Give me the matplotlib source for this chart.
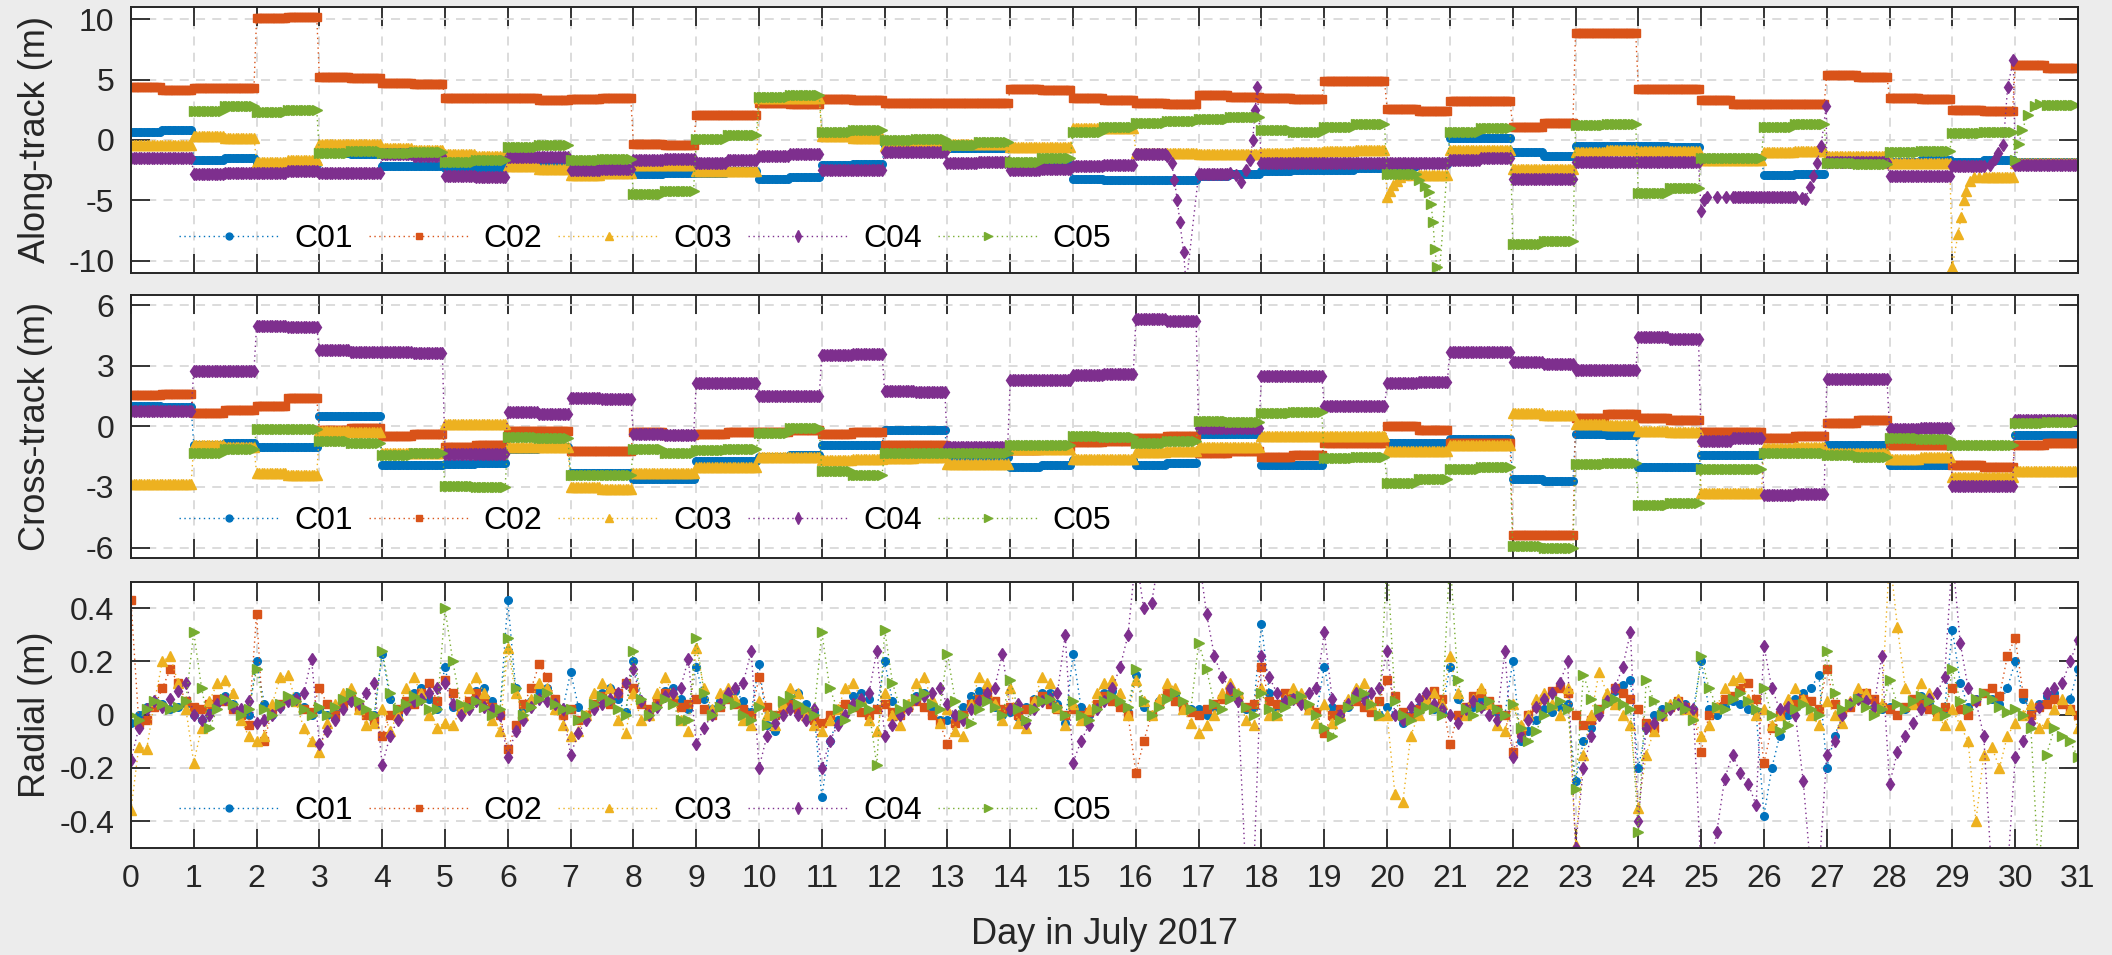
import numpy as np
import matplotlib.pyplot as plt

plt.rcParams['font.family'] = ['Liberation Sans', 'DejaVu Sans']
plt.rcParams['axes.unicode_minus'] = False

sats = ['C01', 'C02', 'C03', 'C04', 'C05']
colors = ['#0072BD', '#D95319', '#EDB120', '#7E2F8E', '#77AC30']
markers = ['.', 's', '^', 'd', '>']
msizes = [11, 5.5, 6.5, 6.5, 6.5]

N = None

# ---- along-track (m), one level per half day, day 0 .. 30 ----
along_c01 = [0.7, 0.8, -1.7, -1.5, -1.9, -2.0, -1.1, -1.2, -2.2, -2.2,
             -2.3, -2.3, -1.8, -1.8, -2.4, -2.4, -2.8, -2.7, -2.7, -2.6,
             -3.2, -3.1, -2.1, -2.0, -0.4, -0.5, -0.7, -0.7, -2.1, -2.1,
             -3.2, -3.3, -3.3, -3.3, -3.0, -2.8, -2.6, -2.5, -2.5, -2.3,
             -2.2, -2.0, 0.2, 0.2, -1.0, -1.3, -0.5, -0.5, -0.5, -0.6,
             -1.5, -1.5, -2.9, -2.8, -1.9, -1.9, -1.8, -1.7, -1.8, -1.7,
             -1.8, -1.8]
along_c02 = [4.4, 4.1, 4.3, 4.3, 10.1, 10.2, 5.2, 5.1, 4.7, 4.6,
             3.5, 3.5, 3.5, 3.3, 3.4, 3.5, -0.3, -0.4, 2.1, 2.1,
             3.1, 3.0, 3.4, 3.3, 3.1, 3.1, 3.1, 3.1, 4.2, 4.1,
             3.5, 3.3, 3.1, 3.0, 3.7, 3.6, 3.5, 3.4, 4.9, 4.9,
             2.6, 2.4, 3.2, 3.2, 1.1, 1.4, 8.9, 8.9, 4.2, 4.2,
             3.3, 3.0, 3.0, 3.0, 5.4, 5.2, 3.5, 3.4, 2.5, 2.4,
             6.2, 6.0]
along_c03 = [-0.4, -0.4, 0.3, 0.2, -1.8, -1.7, -0.3, -0.3, -0.7, -0.8,
             -1.2, -1.3, -2.2, -2.4, -2.9, -2.7, -2.1, -2.1, -2.6, -2.6,
             3.5, 3.5, 0.3, 0.2, -0.5, -0.5, -0.3, -0.3, -0.6, -0.6,
             1.0, 1.0, -1.1, -1.1, -1.2, -1.2, -1.1, -1.0, -0.9, -0.8,
             N, -2.9, -0.8, -0.8, -2.4, -2.4, -1.0, -0.8, -0.9, -0.9,
             -1.7, -1.7, -1.0, -0.9, -1.3, -1.3, -1.9, -1.9, N, -3.1,
             -1.9, -1.9]
along_c04 = [-1.5, -1.5, -2.8, -2.7, -2.7, -2.6, -2.7, -2.7, -1.2, -1.3,
             -3.0, -3.1, -1.4, -1.4, -2.5, -2.4, -1.7, -1.6, -1.9, -1.7,
             -1.3, -1.2, -2.5, -2.5, -1.0, -1.0, -1.9, -1.8, -2.5, -2.4,
             -2.2, -2.1, -1.2, N, -2.8, N, -1.9, -1.9, -1.9, -1.9,
             -1.9, -1.9, -1.7, -1.5, -3.2, -3.2, -1.8, -1.8, -1.8, -1.8,
             N, -4.7, -4.7, N, -1.8, -1.8, -3.0, -3.0, -2.2, N,
             -2.1, -2.1]
along_c05 = [N, N, 2.4, 2.8, 2.3, 2.5, -1.1, -0.9, -1.1, -1.0,
             -1.8, -1.7, -0.6, -0.4, -1.7, -1.6, -4.5, -4.2, 0.1, 0.4,
             3.6, 3.7, 0.7, 0.8, 0.0, 0.1, -0.4, -0.2, -1.8, -1.5,
             0.7, 1.1, 1.4, 1.6, 1.7, 1.9, 0.8, 0.7, 1.1, 1.3,
             -2.8, N, 0.7, 1.0, -8.6, -8.4, 1.2, 1.3, -4.4, -4.0,
             -1.5, -1.5, 1.1, 1.3, -1.9, -2.0, -1.0, -0.9, 0.6, 0.7,
             N, 2.9]

# ramps / manoeuvres in along-track (day, m)
along_x_c01 = []
along_x_c02 = []
along_x_c03 = [(20.0, -4.7), (20.05, -4.2), (20.1, -3.7), (20.15, -3.4),
               (20.2, -3.1), (20.3, -2.9), (20.4, -2.9),
               (29.0, -10.5), (29.09, -7.8), (29.14, -6.4), (29.18, -5.0),
               (29.22, -4.2), (29.28, -3.4), (29.34, -3.1), (29.42, -3.1)]
along_x_c04 = [(16.5, -1.3), (16.57, -1.9), (16.61, -3.3), (16.66, -5.0),
               (16.7, -6.8), (16.76, -9.3), (16.8, -12.0),
               (17.5, -2.7), (17.6, -2.9), (17.68, -3.5), (17.75, -2.5),
               (17.82, -1.7), (17.86, 0.0), (17.9, 2.5), (17.93, 4.4),
               (25.0, -5.9), (25.05, -5.0), (25.1, -4.7), (25.25, -4.7), (25.4, -4.7),
               (26.5, -4.7), (26.6, -4.8), (26.66, -4.9), (26.73, -3.9),
               (26.78, -3.0), (26.84, -1.9), (26.91, -0.5), (26.99, 2.8),
               (29.5, -2.2), (29.6, -2.1), (29.68, -1.6), (29.73, -1.1),
               (29.81, -0.4), (29.88, 4.4), (29.97, 6.6)]
along_x_c05 = [(20.5, -3.3), (20.6, -3.8), (20.66, -4.3), (20.7, -5.3),
               (20.73, -6.8), (20.76, -9.0), (20.79, -10.5), (20.82, -12.0),
               (30.0, -1.7), (30.06, -0.3), (30.11, 0.8), (30.2, 2.1),
               (30.31, 2.8), (30.4, 3.0)]

# ---- cross-track (m), one level per half day ----
cross_c01 = [1.0, 0.95, -0.9, -0.8, -1.0, -1.0, 0.5, 0.5, -1.9, -1.9,
             -1.85, -1.8, -1.1, -1.0, -2.3, -2.3, -2.6, -2.6, -1.7, -1.7,
             -1.5, -1.4, -0.9, -0.9, -0.2, -0.2, -1.5, -1.5, -2.0, -1.9,
             -1.65, -1.65, -1.9, -1.8, -0.4, -0.4, -1.9, -1.9, -0.6, -0.7,
             -0.8, -0.8, -0.65, -0.65, -2.6, -2.7, -0.4, -0.45, -2.0, -2.0,
             -1.4, -1.4, -1.3, -1.3, -0.9, -0.9, -1.9, -1.9, -0.9, -0.9,
             -0.45, -0.45]
cross_c02 = [1.55, 1.6, 0.65, 0.8, 1.0, 1.4, -0.2, -0.1, -0.5, -0.4,
             -1.0, -0.9, -0.25, -0.25, -1.2, -1.2, -0.3, -0.45, -0.4, -0.3,
             -0.3, -0.2, -0.4, -0.3, -0.9, -0.9, -1.2, -1.2, -1.15, -1.0,
             -0.75, -0.7, -0.6, -0.5, -1.3, -1.2, -1.5, -1.4, -0.8, -0.8,
             0.0, -0.2, -0.8, -0.8, -5.4, -5.4, 0.4, 0.6, 0.4, 0.3,
             -0.3, -0.3, -0.6, -0.5, 0.15, 0.3, -0.9, -0.9, -1.9, -2.0,
             -0.9, -0.8]
cross_c03 = [-2.85, -2.85, -0.9, -1.0, -2.3, -2.4, -0.25, -0.3, -1.3, -1.3,
             0.1, 0.1, -1.0, -1.0, -3.0, -3.1, -2.3, -2.3, -2.0, -2.0,
             -1.5, -1.5, -1.65, -1.6, -1.55, -1.5, -1.85, -1.85, -1.1, -1.1,
             -1.6, -1.6, -1.25, -1.2, -1.0, -1.0, -0.5, -0.5, -0.5, -0.5,
             -1.2, -1.2, -0.9, -0.9, 0.65, 0.55, 0.1, 0.05, -0.25, -0.3,
             -3.3, -3.3, -1.05, -1.0, -1.3, -1.3, -1.6, -1.5, -2.5, -2.5,
             -2.2, -2.2]
cross_c04 = [0.75, 0.75, 2.75, 2.75, 4.95, 4.9, 3.8, 3.7, 3.7, 3.65,
             -1.35, -1.35, 0.7, 0.6, 1.4, 1.35, -0.4, -0.45, 2.15, 2.15,
             1.5, 1.5, 3.55, 3.6, 1.75, 1.7, -1.0, -1.0, 2.3, 2.3,
             2.55, 2.6, 5.3, 5.2, -0.1, -0.1, 2.5, 2.5, 1.0, 1.0,
             2.15, 2.2, 3.7, 3.7, 3.2, 3.1, 2.8, 2.8, 4.4, 4.3,
             -0.7, -0.6, -3.4, -3.35, 2.35, 2.35, -0.15, -0.1, -2.95, -2.95,
             0.3, 0.3]
cross_c05 = [N, N, -1.3, -1.1, -0.15, -0.15, -0.7, -0.8, -1.4, -1.3,
             -2.95, -3.0, -0.55, -0.6, -2.4, -2.4, -1.1, -1.3, -1.15, -1.1,
             -0.35, -0.1, -2.2, -2.4, -1.3, -1.3, -1.3, -1.3, -0.9, -0.9,
             -0.5, -0.55, -0.8, -0.7, 0.25, 0.2, 0.65, 0.7, -1.55, -1.5,
             -2.8, -2.6, -2.1, -2.0, -5.9, -6.0, -1.85, -1.8, -3.9, -3.8,
             -2.1, -2.1, -1.3, -1.3, -1.4, -1.5, -0.6, -0.65, -0.9, -0.9,
             0.15, 0.2]

# ---- radial (cm), every 3 h from day 0.0 to 31.0 ----
rad_c01 = [-3, 0, 3, 5, 4, 2, 3, 4,
           0, -2, 2, 6, 7, 4, 1, 0,
           20, 4, 0, 3, 6, 7, 3, 0,
           2, 0, 1, 4, 5, 3, 1, 0,
           23, 6, 0, 3, 8, 10, 6, 2,
           18, 3, 1, 4, 9, 10, 5, 1,
           43, 10, 2, 5, 9, 10, 5, 2,
           16, 3, 0, 4, 8, 10, 6, 1,
           20, 5, 1, 5, 9, 10, 6, 2,
           18, 6, 2, 5, 8, 9, 5, 1,
           19, -4, -6, 2, 6, 8, 4, 1,
           -31, -10, -2, 4, 7, 8, 6, 2,
           20, 5, 0, 3, 7, 8, 3, -2,
           -2, 0, 3, 7, 9, 7, 3, 0,
           1, -1, 3, 6, 8, 8, 4, -3,
           23, 3, 0, 4, 8, 9, 4, 1,
           15, 3, 0, 5, 8, 7, 3, 2,
           2, 0, 3, 6, 8, 6, 2, 3,
           34, 8, 3, 6, 8, 7, 3, 1,
           18, 3, 0, 3, 6, 7, 3, 0,
           3, 0, -3, 0, 3, 5, 2, 1,
           18, 6, 0, 3, 6, 4, 1, 0,
           20, -10, -6, -2, 2, 1, 3, 4,
           -25, -10, -5, 2, 6, 9, 11, 13,
           -20, -5, 0, 2, 3, 5, 4, 2,
           20, 2, 0, 3, 5, 4, 2, 1,
           -38, -20, -8, 0, 6, 8, 10, 15,
           -20, -8, 0, 4, 7, 6, 3, 2,
           3, 0, 2, 5, 7, 4, 1, 2,
           32, 12, 3, 6, 8, 6, 4, 10,
           20, 6, 2, 4, 7, 8, 4, 6,
           17]
rad_c02 = [43, -3, -2, 3, 10, 17, 12, 5,
           3, 2, 4, 6, 5, 2, 0, -4,
           38, -10, 2, 4, 6, 5, 2, 1,
           10, 4, 0, 4, 6, 3, 0, -2,
           -8, 0, 2, 5, 4, 8, 12, 5,
           13, 8, 2, 5, 8, 6, 3, 0,
           -13, -4, 4, 10, 19, 14, 6, 0,
           2, -2, 0, 4, 7, 4, 8, 12,
           10, 4, 2, 5, 8, 5, 3, 4,
           6, 2, 0, 3, 6, 4, 2, 0,
           14, 3, 0, 2, 4, 2, 0, -2,
           -3, 0, 2, 4, 3, 1, 0, 2,
           4, 1, 0, 3, 5, 3, 0, -3,
           -11, -3, 0, 4, 6, 8, 5, 2,
           3, 0, 2, 5, 7, 4, 2, 0,
           2, 0, 1, 4, 7, 5, 3, 0,
           -22, -10, 0, 4, 8, 5, 3, 1,
           0, 2, 4, 6, 9, 7, 3, 4,
           18, 5, 4, 8, 6, 5, 2, 1,
           -7, 0, 2, 4, 5, 3, 1, 5,
           13, 7, 1, -1, 2, 6, 9, 6,
           -11, 0, 3, 7, 8, 5, 2, 0,
           -14, -6, 0, 3, 6, 9, 10, 8,
           0, -4, -2, 2, 5, 10, 8, 6,
           2, -3, -5, 0, 3, 5, 3, 1,
           -14, 0, 3, 6, 7, 10, 12, 6,
           -18, -5, 0, 3, 4, 6, 5, 2,
           17, 4, 1, 3, 6, 8, 6, 3,
           2, 0, 3, 6, 4, 2, 1, 3,
           10, 2, 0, 5, 8, 10, 7, 22,
           29, 8, 0, 3, 4, 6, 4, 2,
           0]
rad_c03 = [-36, -12, -13, 5, 20, 22, 12, 2,
           -18, -5, 5, 12, 13, 8, -2, -8,
           -10, -8, 4, 14, 15, 5, -5, -10,
           -14, -3, 4, 8, 10, 2, -4, -3,
           2, -6, 0, 10, 14, 8, 0, -5,
           -3, -4, 2, 10, 14, 8, -2, -6,
           25, 8, 0, 6, 12, 10, 2, -4,
           -8, -6, 0, 8, 12, 10, -2, -7,
           8, -2, 0, 8, 14, 8, -2, -6,
           25, 10, 2, 8, 10, 6, -2, -4,
           5, 0, -4, 4, 10, 8, 0, -4,
           -6, -2, 2, 10, 12, 6, -2, -6,
           8, 0, -4, 4, 12, 14, 6, -3,
           2, -6, -8, 4, 14, 12, 4, -2,
           10, -3, -5, 5, 14, 12, 3, -4,
           4, -2, 2, 8, 12, 13, 8, 0,
           13, 5, 0, 6, 12, 10, 2, -3,
           -7, -4, 0, 8, 12, 8, -2, -4,
           10, 0, 0, 6, 10, 8, 2, -3,
           4, -3, 0, 6, 10, 12, 4, 0,
           0, -30, -33, -8, 0, 6, 8, 4,
           22, 8, 0, 6, 10, 4, -4, -6,
           4, -4, 0, 6, 8, 4, 0, 10,
           -49, -15, 0, 16, 8, 4, 0, -4,
           -35, -15, -6, 0, 4, 6, 2, 0,
           -8, -4, 3, 10, 13, 14, 6, 0,
           2, -4, 0, 6, 10, 6, 0, -4,
           5, 0, -3, 5, 10, 8, 2, 4,
           60, 33, 10, 4, 12, 8, 0, -4,
           2, -4, -10, -40, -15, -12, -20, -8,
           -3, 0, 4, -5, -3, 2, 6, 2,
           -5]
rad_c04 = [-17, -5, 2, 5, 3, 6, 9, 12,
           0, -2, 0, 4, 6, 3, 2, 5,
           -3, -2, 0, 3, 5, 6, 8, 21,
           -11, -6, -2, 2, 5, 4, 8, 12,
           -19, -8, -2, 2, 5, 6, 8, 10,
           12, 4, 0, 2, 5, 3, 2, 0,
           -16, -6, -2, 3, 6, 5, 4, 2,
           -15, -7, -2, 2, 4, 6, 8, 12,
           17, 5, 0, 3, 7, 8, 10, 21,
           -11, -5, 0, 4, 8, 10, 12, 24,
           -20, -8, -3, 0, 2, 0, -2, 2,
           -20, -10, -4, 0, 4, 6, 8, 24,
           -8, -4, 0, 2, 6, 7, 8, 10,
           4, 0, -2, 2, 5, 8, 10, 23,
           2, 4, -3, 2, 5, 6, 8, 30,
           -18, -10, -4, 2, 5, 10, 18, 30,
           60, 40, 42, 60, 60, 60, 60, 60,
           60, 38, 22, 14, 10, 5, -60, -60,
           22, 14, 8, 5, 6, 4, 8, 10,
           31, 6, 0, 4, 8, 6, 8, 10,
           24, 0, -2, 3, 6, 8, 4, 2,
           0, -3, 2, 5, 3, 0, -2, 24,
           -16, -8, -2, 3, 6, 8, 12, 20,
           -50, -20, -8, 0, 5, 10, 18, 31,
           -40, -5, -3, 0, 2, 4, 3, 2,
           -60, -60, -44, -24, -15, -22, -26, -34,
           26, 10, 2, 3, 0, -25, -60, -60,
           -15, -10, 0, 4, 6, 5, 3, 22,
           -26, -14, -8, -3, 2, 6, 8, 14,
           60, 27, 10, 5, -8, -60, -60, -60,
           -16, -10, -3, 3, 8, 10, 12, 20,
           28]
rad_c05 = [0, -2, 2, 5, 4, 2, 3, 5,
           31, 10, -5, 2, 6, 4, 0, 2,
           17, 2, 0, 4, 7, 5, 2, 0,
           3, 0, 3, 6, 8, 5, 2, 0,
           24, 8, 2, 4, 7, 5, 2, 2,
           40, 20, 4, 3, 5, 3, 0, 2,
           29, 10, 0, 3, 6, 8, 4, 2,
           2, -2, 0, 4, 7, 5, 2, 0,
           24, 6, 0, 3, 6, 4, -2, -2,
           29, 8, 0, 3, 6, 4, 0, -2,
           3, -4, 0, 5, 7, 4, 2, 0,
           31, 10, 2, -2, 2, 4, 2, -19,
           32, 12, 2, 4, 6, 8, 4, 2,
           23, 5, 0, -3, 2, 5, 3, 0,
           13, 2, -2, 2, 5, 6, 3, 0,
           5, 0, -2, 2, 5, 7, 5, 3,
           17, 5, 0, 3, 6, 8, 5, 2,
           27, 17, 4, 2, 6, 8, 3, 0,
           8, 2, 0, 3, 5, 7, 4, 0,
           -5, -8, -2, 3, 6, 8, 4, 0,
           60, 5, 0, -2, 1, 3, 2, 0,
           60, 13, 2, 0, 3, 5, 2, 0,
           4, -5, -10, -6, 0, 3, 5, 2,
           -28, 15, 6, 2, 4, 6, 4, 2,
           -44, 13, 5, 0, 3, 4, 2, -2,
           22, 10, 3, 2, 6, 8, 5, 2,
           10, 0, -6, -4, 2, 4, 2, 0,
           24, 8, 2, 4, 6, 3, 0, 2,
           13, 4, 2, 5, 7, 5, 2, 0,
           17, 5, 2, 6, 8, 6, 3, 1,
           2, 0, -5, -60, -15, -5, -8, -10,
           -16]

along = [along_c01, along_c02, along_c03, along_c04, along_c05]
along_x = [along_x_c01, along_x_c02, along_x_c03, along_x_c04, along_x_c05]
cross = [cross_c01, cross_c02, cross_c03, cross_c04, cross_c05]
radial = [rad_c01, rad_c02, rad_c03, rad_c04, rad_c05]


def block_series(levels, extra):
    # each half-day level is held over 12 hourly epochs
    t, v = [], []
    for k, lev in enumerate(levels):
        if lev is None:
            continue
        for j in range(12):
            t.append(k * 0.5 + j / 24)
            v.append(lev)
    for tt, vv in extra:
        t.append(tt)
        v.append(vv)
    order = np.argsort(t)
    return np.array(t)[order], np.array(v)[order]


fig = plt.figure(figsize=(21.12, 9.55), dpi=100, facecolor='#ececec')
ax1 = fig.add_axes([0.0620, 0.7145, 0.9219, 0.2779])
ax2 = fig.add_axes([0.0620, 0.4160, 0.9219, 0.2751])
ax3 = fig.add_axes([0.0620, 0.1124, 0.9219, 0.2785])

line_kw = dict(linestyle=(0, (1, 2.5)), linewidth=1.0)

for i in range(5):
    t, v = block_series(along[i], along_x[i])
    ax1.plot(t, v, marker=markers[i], ms=msizes[i], color=colors[i],
             label=sats[i], **line_kw)
    t, v = block_series(cross[i], [])
    ax2.plot(t, v, marker=markers[i], ms=msizes[i], color=colors[i],
             label=sats[i], **line_kw)
    r = np.array(radial[i]) / 100.0
    t = np.arange(len(r)) / 8.0
    ax3.plot(t, r, marker=markers[i], ms=msizes[i], color=colors[i],
             label=sats[i], **line_kw)

ax1.set_ylim(-11, 11)
ax1.set_yticks([-10, -5, 0, 5, 10])
ax2.set_ylim(-6.5, 6.5)
ax2.set_yticks([-6, -3, 0, 3, 6])
ax3.set_ylim(-0.5, 0.5)
ax3.set_yticks([-0.4, -0.2, 0, 0.2, 0.4], ['-0.4', '-0.2', '0', '0.2', '0.4'])

ax1.set_ylabel('Along-track (m)', fontsize=26, color='#262626')
ax2.set_ylabel('Cross-track (m)', fontsize=26, color='#262626')
ax3.set_ylabel('Radial (m)', fontsize=26, color='#262626')
ax3.set_xlabel('Day in July 2017', fontsize=26, color='#262626')
ax3.xaxis.set_label_coords(0.5, -0.262)

leg_y = [0.125, 0.138, 0.138]
for k, ax in enumerate([ax1, ax2, ax3]):
    ax.set_facecolor('white')
    ax.set_xlim(0, 31)
    ax.set_xticks(range(32))
    ax.set_axisbelow(True)
    ax.grid(True, linestyle=(0, (5, 4)), color='#d9d9d9', linewidth=1.3)
    ax.tick_params(direction='in', length=13.5, width=1.3, colors='#262626',
                   top=True, right=True, labelsize=23, pad=12)
    for s in ax.spines.values():
        s.set_color('#262626')
        s.set_linewidth(1.4)
    ax.yaxis.set_label_coords(-0.040, 0.5)
    if ax is not ax3:
        ax.tick_params(labelbottom=False)
    ax.legend(ncol=5, loc='center left', bbox_to_anchor=(0.0247, leg_y[k]),
              frameon=False, fontsize=23, handlelength=3.15,
              handletextpad=0.45, columnspacing=0.5, borderpad=0,
              borderaxespad=0, numpoints=1, markerscale=0.9)

fig.savefig('out.png', dpi=100, facecolor=fig.get_facecolor())
